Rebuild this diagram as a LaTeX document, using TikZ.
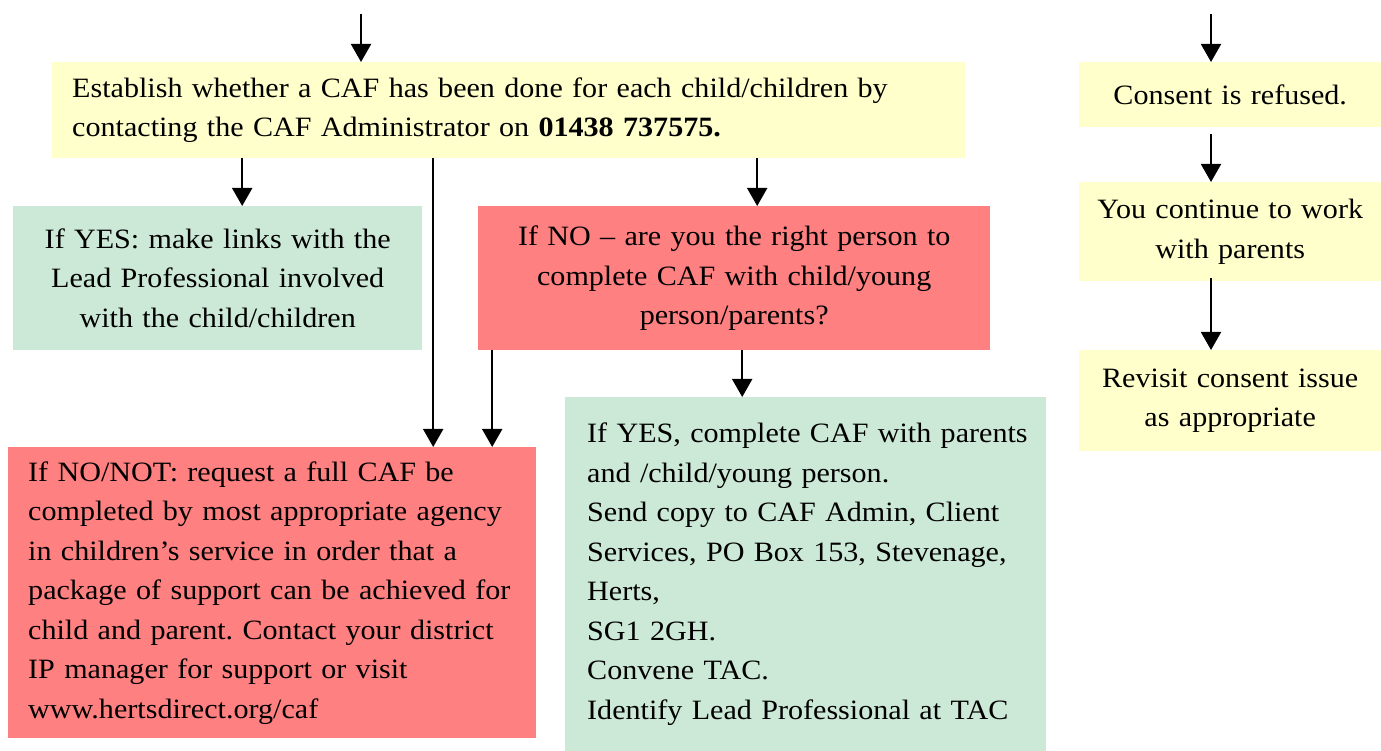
\documentclass[tikz,border=0pt]{standalone}
\usepackage{fontspec}
\setmainfont{Liberation Serif}[FakeStretch=1.075]
\usepackage{tikz}
\usetikzlibrary{arrows.meta}

\definecolor{pale}{RGB}{255,255,204}
\definecolor{mint}{RGB}{204,232,214}
\definecolor{rose}{RGB}{255,128,128}

\begin{document}
\frenchspacing
\hyphenpenalty=10000
\hbadness=10000
\hfuzz=50pt
\begin{tikzpicture}[x=1pt,y=1pt,
    blk/.style={anchor=north west, inner ysep=0pt, font=\fontsize{28}{39.5}\selectfont},
    arr/.style={line width=2pt, -{Triangle[width=20pt,length=18pt]}}]
    \useasboundingbox (0,0) rectangle (1381,751);
    % Left part: the CAF check
    \node[blk, fill=pale, inner xsep=20pt, text width=873pt, minimum height=96pt, align=left]
      (caf) at (52,689) {Establish whether a CAF has been done for each child/children by\\
      contacting the CAF Administrator on \textbf{01438 737575.}};
    \node[blk, fill=mint, inner xsep=10pt, text width=389pt, minimum height=144pt, align=center]
      (yes) at (13,545) {If YES: make links with the\\ Lead Professional involved\\ with the child/children};
    \node[blk, fill=rose, inner xsep=10pt, text width=492pt, minimum height=144pt, align=center]
      (no) at (478,545) {If NO -- are you the right person to\\ complete CAF with child/young\\ person/parents?};
    \node[blk, fill=rose, inner xsep=20pt, text width=488pt, minimum height=291pt, align=left]
      (nonot) at (8,304) {If NO/NOT: request a full CAF be\\ completed by most appropriate agency\\
      in children's service in order that a\\ package of support can be achieved for\\
      child and parent. Contact your district\\ IP manager for support or visit\\ www.hertsdirect.org/caf};
    \node[blk, fill=mint, inner xsep=22pt, text width=437pt, minimum height=354pt, align=left]
      (yestwo) at (565,354) {\mbox{If YES, complete CAF with parents}\\ and /child/young person.\\
      Send copy to CAF Admin, Client\\ Services, PO Box 153, Stevenage,\\ Herts,\\ SG1 2GH.\\
      Convene TAC.\\ Identify Lead Professional at TAC\\[39.5pt]};
    % Right part: consent refused
    \node[blk, fill=pale, inner xsep=10pt, text width=282pt, minimum height=65pt, align=center]
      (refused) at (1079,689) {Consent is refused.};
    \node[blk, fill=pale, inner xsep=10pt, text width=282pt, minimum height=99pt, align=center]
      (cont) at (1079,569) {You continue to work\\ with parents};
    \node[blk, fill=pale, inner xsep=10pt, text width=282pt, minimum height=101pt, align=center]
      (revisit) at (1079,401) {Revisit consent issue\\ as appropriate};
    % Incoming arrows
    \coordinate (inleft) at (361,737);
    \coordinate (inright) at (1211,737);
    \draw[arr] (inleft) -- (inleft |- caf.north);
    \draw[arr] (inright) -- (inright |- refused.north);
    % Arrows out of the CAF check
    \draw[arr] ([xshift=24.5pt]yes.north |- caf.south) -- ([xshift=24.5pt]yes.north);
    \draw[arr] ([xshift=161pt]nonot.north |- caf.south) -- ([xshift=161pt]nonot.north);
    \draw[arr] ([xshift=23pt]no.north |- caf.south) -- ([xshift=23pt]no.north);
    \draw[arr] ([xshift=220pt]nonot.north |- no.south) -- ([xshift=220pt]nonot.north);
    \draw[arr] ([xshift=-63.5pt]yestwo.north |- no.south) -- ([xshift=-63.5pt]yestwo.north);
    % Arrows down the right column
    \draw[arr] ([yshift=-7pt]refused.south -| inright) -- (cont.north -| inright);
    \draw[arr] ([yshift=3pt]cont.south -| inright) -- (revisit.north -| inright);
\end{tikzpicture}
\end{document}
